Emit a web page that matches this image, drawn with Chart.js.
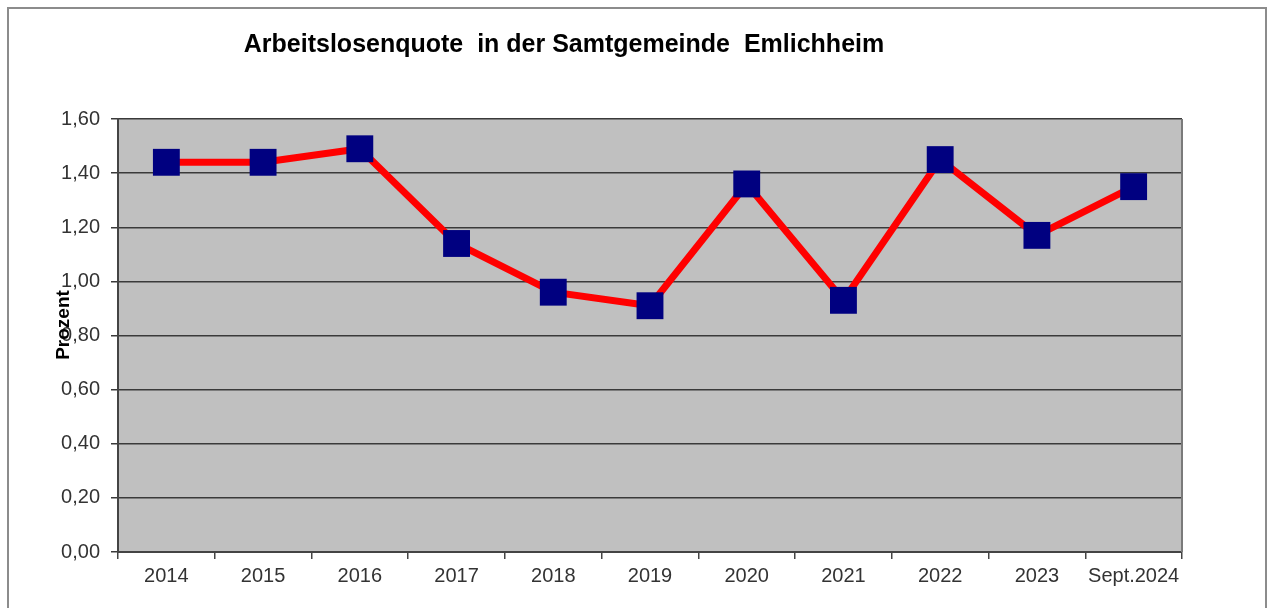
<!DOCTYPE html>
<html>
<head>
<meta charset="utf-8">
<script src="https://cdn.jsdelivr.net/npm/chart.js@4.4.1/dist/chart.umd.min.js"></script>
<style>
  html, body { margin: 0; padding: 0; background: #fff; }
  #wrap { width: 1268px; height: 608px; }
</style>
</head>
<body>
<div id="wrap"><canvas id="myChart" width="1268" height="608"></canvas></div>
<script>
"use strict";

// data
const years = ["2014", "2015", "2016", "2017", "2018", "2019", "2020", "2021", "2022", "2023", "Sept.2024"];
const quote = [1.44, 1.44, 1.49, 1.14, 0.96, 0.91, 1.36, 0.93, 1.45, 1.17, 1.35];
const yTicks = [0, 0.2, 0.4, 0.6, 0.8, 1.0, 1.2, 1.4, 1.6];

const chartTitle = "Arbeitslosenquote  in der Samtgemeinde  Emlichheim";
const yTitle = "Prozent";

// background of the plot, outer frame and the texts
const frame = {
  id: "frame",
  beforeDraw(chart) {
    let ctx = chart.ctx;
    let a = chart.chartArea;
    ctx.save();
    ctx.fillStyle = "#fff";
    ctx.fillRect(0, 0, chart.width, chart.height);
    ctx.strokeStyle = "#8c8c8c";
    ctx.lineWidth = 2;
    ctx.strokeRect(8, 8, 1258, 640);
    ctx.fillStyle = "#c0c0c0";
    ctx.fillRect(a.left, a.top, a.right - a.left, a.bottom - a.top);
    ctx.restore();
  },
  afterDraw(chart) {
    let ctx = chart.ctx;
    let a = chart.chartArea;
    ctx.save();
    ctx.strokeStyle = "#7a7a7a";
    ctx.lineWidth = 2;
    ctx.beginPath();
    ctx.moveTo(a.right, a.top);
    ctx.lineTo(a.right, a.bottom);
    ctx.stroke();

    ctx.fillStyle = "#000";
    ctx.font = "bold 25px 'Liberation Sans', Arial, sans-serif";
    ctx.textAlign = "center";
    ctx.textBaseline = "middle";
    ctx.fillText(chartTitle, 564, 45);

    ctx.translate(64, 325);
    ctx.rotate(-Math.PI / 2);
    ctx.font = "bold 19px 'Liberation Sans', Arial, sans-serif";
    ctx.fillText(yTitle, 0, 0);
    ctx.restore();
  }
};

const config = {
  type: "line",
  data: {
    labels: years,
    datasets: [
      {
        label: "Arbeitslosenquote",
        data: quote,
        borderColor: "#ff0000",
        borderWidth: 7,
        tension: 0,
        pointStyle: "rect",
        pointRadius: 19,
        pointHoverRadius: 19,
        pointBackgroundColor: "#000080",
        pointBorderColor: "#000080",
        pointBorderWidth: 0,
      },
    ],
  },
  options: {
    responsive: false,
    animation: false,
    layout: { padding: { left: 0, top: 119, right: 86, bottom: 0 } },
    plugins: {
      legend: { display: false },
      title: { display: false },
      tooltip: { enabled: false },
    },
    scales: {
      x: {
        type: "category",
        offset: true,
        grid: {
          offset: true,
          drawOnChartArea: false,
          drawTicks: true,
          tickLength: 7,
          color: "#444",
          lineWidth: 1.5,
        },
        border: { color: "#444", width: 2 },
        ticks: {
          color: "#333",
          font: { family: "'Liberation Sans', Arial, sans-serif", size: 20 },
          padding: 5,
          maxRotation: 0,
          autoSkip: false,
        },
        afterFit(scale) { scale.height = 56; },
      },
      y: {
        min: 0,
        max: 1.6,
        afterBuildTicks(scale) {
          scale.ticks = yTicks.map(v => ({ value: v }));
        },
        grid: {
          color: "#3a3a3a",
          lineWidth: 1.5,
          drawTicks: true,
          tickLength: 7,
        },
        border: { color: "#444", width: 2 },
        ticks: {
          color: "#333",
          font: { family: "'Liberation Sans', Arial, sans-serif", size: 20 },
          padding: 11,
          callback: v => v.toFixed(2).replace(".", ","),
        },
        afterFit(scale) { scale.width = 118; },
      },
    },
  },
  plugins: [frame],
};

new Chart(document.getElementById("myChart"), config);
</script>
</body>
</html>
